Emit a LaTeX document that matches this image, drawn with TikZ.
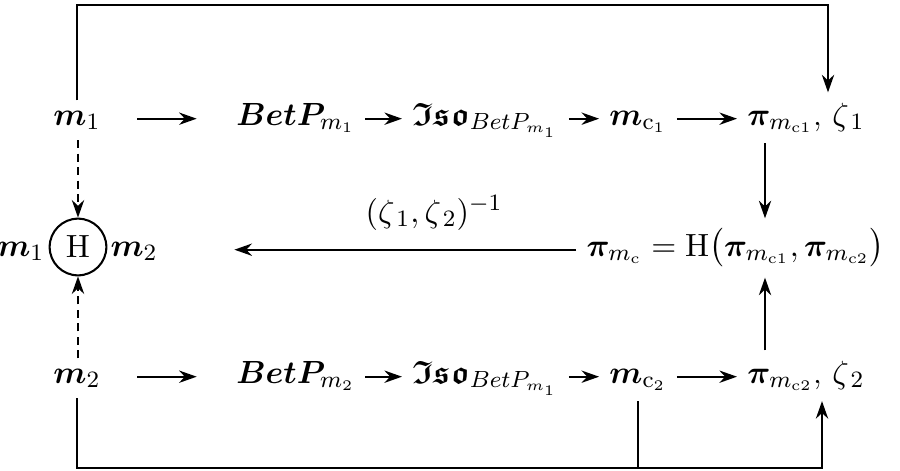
\documentclass[tikz,border=0pt]{standalone}
\usepackage{amsmath,amssymb,bm}
\usetikzlibrary{arrows.meta}

\begin{document}
\begin{tikzpicture}[x=0.012cm, y=-0.012cm,
  >={Stealth[length=6pt,width=4.2pt]},
  every node/.style={font=\fontsize{11}{13}\selectfont},
  txt/.style={anchor=base},
  flow/.style={->, line width=0.7pt},
  link/.style={line width=0.7pt},
  dflow/.style={->, line width=0.7pt, dash pattern=on 2.8pt off 1.8pt}]

\useasboundingbox (0,0) rectangle (900,470);

% First row
\node[txt] (m1) at (77,125) {$\bm{m}_1$};
\node[txt, anchor=base west] (bp1) at (226,125) {$\bm{BetP}_{m_1}$};
\node[txt, anchor=base west] (iso1) at (402,125) {$\bm{\mathfrak{Iso}}_{BetP_{m_1}}$};
\node[txt] (mc1) at (638,125) {$\bm{m}_{\mathrm{c}_1}$};
\node[txt, anchor=base west] (pz1) at (737,125) {$\bm{\pi}_{m_{\mathrm{c}1}}$, $\zeta_{\,1}$};

% Second row
\node[txt, anchor=base east, inner sep=0pt] (m1h) at (45,256) {$\bm{m}_1$};
\node[circle, draw, line width=0.7pt, minimum size=0.68cm, inner sep=0pt] (hop) at (78,247) {$\mathrm{H}$};
\node[txt, anchor=base west, inner sep=0pt] (m2h) at (110,256) {$\bm{m}_2$};
\node[txt, anchor=base east] (pic) at (895,256) {$\bm{\pi}_{m_{\mathrm{c}}} = \mathrm{H}\bigl(\bm{\pi}_{m_{\mathrm{c}1}},\bm{\pi}_{m_{\mathrm{c}2}}\bigr)$};

% Third row
\node[txt] (m2) at (77,383) {$\bm{m}_2$};
\node[txt, anchor=base west] (bp2) at (226,383) {$\bm{BetP}_{m_2}$};
\node[txt, anchor=base west] (iso2) at (402,383) {$\bm{\mathfrak{Iso}}_{BetP_{m_1}}$};
\node[txt] (mc2) at (638,383) {$\bm{m}_{\mathrm{c}_2}$};
\node[txt, anchor=base west] (pz2) at (737,383) {$\bm{\pi}_{m_{\mathrm{c}2}}$, $\zeta_{\,2}$};

% Corners of the outer lines
\coordinate (topr) at (828,5);
\coordinate (botr) at (822,468);
\coordinate (colx) at (765,0);

% Row arrows
\draw[flow, shorten <=9pt, shorten >=10pt] (m1.mid east) -- (bp1.mid west);
\draw[flow] (bp1.mid east) -- (iso1.mid west);
\draw[flow] (iso1.mid east) -- (mc1.mid west);
\draw[flow] (mc1.mid east) -- (pz1.mid west);
\draw[flow, shorten <=9pt, shorten >=10pt] (m2.mid east) -- (bp2.mid west);
\draw[flow] (bp2.mid east) -- (iso2.mid west);
\draw[flow] (iso2.mid east) -- (mc2.mid west);
\draw[flow] (mc2.mid east) -- (pz2.mid west);

% Combination
\draw[flow] (colx |- pz1.south) -- (colx |- pic.north);
\draw[flow] (colx |- pz2.north) -- (colx |- pic.south);
\draw[flow, shorten >=26pt] (pic.mid west) -- (m2h.mid east)
  node[pos=0.34, above=3pt] (inv) {$(\zeta_{\,1},\zeta_{\,2})^{-1}$};

% Dashed arrows to the operator
\draw[dflow] (hop.north |- m1.south) -- (hop.north);
\draw[dflow] (hop.south |- m2.north) -- (hop.south);

% Outer lines
\draw[flow] (m1.north) |- (topr) -- (topr |- pz1.north);
\draw[flow] (m2.south) |- (botr) -- (botr |- pz2.south);
\draw[link] (mc2.south) -- (mc2.south |- botr);

\end{tikzpicture}
\end{document}
